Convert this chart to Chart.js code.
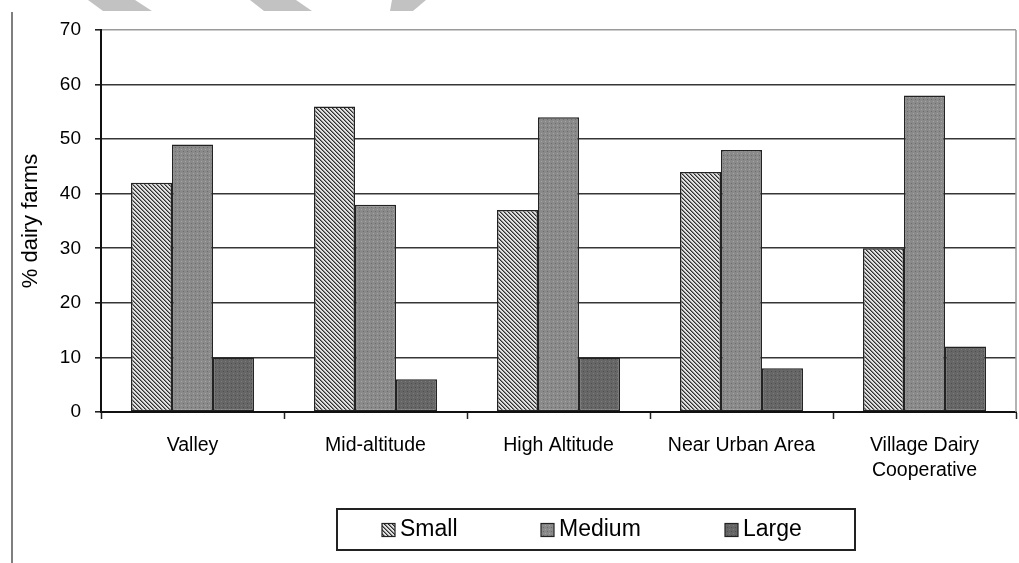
<!DOCTYPE html>
<html>
<head>
<meta charset="utf-8">
<script src="https://cdn.jsdelivr.net/npm/chart.js@4/dist/chart.umd.min.js"></script>
<style>
  html, body { margin: 0; padding: 0; background: #fff; }
  #wrap { width: 1019px; height: 563px; position: relative; }
</style>
</head>
<body>
<div id="wrap"><canvas id="c"></canvas></div>
<script>
// Farm size distribution by location (% of dairy farms)
const categories = ['Valley', 'Mid-altitude', 'High Altitude', 'Near Urban Area', ['Village Dairy', 'Cooperative']];
const seriesNames = ['Small', 'Medium', 'Large'];
const smallFarms  = [42, 56, 37, 44, 30];
const mediumFarms = [49, 38, 54, 48, 58];
const largeFarms  = [10, 6, 10, 8, 12];
const yTicks = [0, 10, 20, 30, 40, 50, 60, 70];

const FONT = "'Liberation Sans', Arial, sans-serif";

// Fill textures for the three series
function makePattern(size, draw) {
  const t = document.createElement('canvas');
  t.width = size; t.height = size;
  const g = t.getContext('2d');
  draw(g);
  return document.createElement('canvas').getContext('2d').createPattern(t, 'repeat');
}
const hatchSmall = makePattern(4, g => {
  g.fillStyle = '#e2e2e2'; g.fillRect(0, 0, 4, 4);
  for (let i = 0; i < 4; i++) {
    g.fillStyle = '#2e2e2e'; g.fillRect(i, i, 1, 1);
    g.fillStyle = '#858585'; g.fillRect((i + 1) % 4, i, 1, 1);
  }
});
const dotsMedium = makePattern(4, g => {
  g.fillStyle = '#8a8a8a'; g.fillRect(0, 0, 4, 4);
  g.fillStyle = '#a6a6a6'; g.fillRect(1, 1, 1, 1);
  g.fillStyle = '#6c6c6c'; g.fillRect(3, 3, 1, 1);
});
const dotsLarge = makePattern(4, g => {
  g.fillStyle = '#666666'; g.fillRect(0, 0, 4, 4);
  g.fillStyle = '#7c7c7c'; g.fillRect(1, 1, 1, 1);
  g.fillStyle = '#4f4f4f'; g.fillRect(3, 3, 1, 1);
});
const fills = [hatchSmall, dotsMedium, dotsLarge];

// Page decorations: grey marks at the top and the left margin rule
const pageDecor = {
  id: 'pageDecor',
  beforeDraw(chart) {
    const ctx = chart.ctx;
    ctx.save();
    ctx.fillStyle = '#c2c2c2';
    const shapes = [
      [[88, 0], [135, 0], [152, 11], [103, 11]],
      [[250, 0], [296, 0], [312, 11], [264, 11]],
      [[392, 0], [426, 0], [413, 11], [390, 11]]
    ];
    shapes.forEach(s => {
      ctx.beginPath();
      ctx.moveTo(s[0][0], s[0][1]);
      for (let i = 1; i < s.length; i++) ctx.lineTo(s[i][0], s[i][1]);
      ctx.closePath();
      ctx.fill();
    });
    ctx.strokeStyle = '#555';
    ctx.lineWidth = 1.5;
    ctx.beginPath();
    ctx.moveTo(12, 12);
    ctx.lineTo(12, 563);
    ctx.stroke();
    ctx.restore();
  },
  afterDatasetsDraw(chart) {
    // right edge of the plot frame
    const a = chart.chartArea, ctx = chart.ctx;
    ctx.save();
    ctx.strokeStyle = '#9a9a9a';
    ctx.lineWidth = 1.5;
    ctx.beginPath();
    ctx.moveTo(a.right, a.top);
    ctx.lineTo(a.right, a.bottom);
    ctx.stroke();
    ctx.restore();
  }
};

// Boxed legend under the axis
const boxedLegend = {
  id: 'boxedLegend',
  afterDraw(chart) {
    const ctx = chart.ctx;
    const box = { x: 337, y: 509, w: 518, h: 41 };
    ctx.save();
    ctx.fillStyle = '#fff';
    ctx.fillRect(box.x, box.y, box.w, box.h);
    ctx.strokeStyle = '#222';
    ctx.lineWidth = 2;
    ctx.strokeRect(box.x, box.y, box.w, box.h);
    const itemX = [382, 541, 725];
    const cy = box.y + box.h / 2;
    ctx.font = '23px ' + FONT;
    ctx.textBaseline = 'middle';
    ctx.textAlign = 'left';
    chart.data.datasets.forEach((ds, i) => {
      const sx = itemX[i];
      ctx.fillStyle = ds.backgroundColor;
      ctx.fillRect(sx, cy - 6, 13, 13);
      ctx.strokeStyle = '#222';
      ctx.lineWidth = 1.2;
      ctx.strokeRect(sx, cy - 6, 13, 13);
      ctx.fillStyle = '#000';
      ctx.fillText(ds.label, sx + 18, cy);
    });
    ctx.restore();
  }
};

const seriesValues = [smallFarms, mediumFarms, largeFarms];

new Chart(document.getElementById('c'), {
  type: 'bar',
  data: {
    labels: categories,
    datasets: seriesNames.map((name, i) => ({
      label: name,
      data: seriesValues[i],
      backgroundColor: fills[i],
      borderColor: '#222',
      borderWidth: 1.5,
      borderSkipped: false,
      categoryPercentage: 0.672,
      barPercentage: 1.0
    }))
  },
  options: {
    responsive: true,
    maintainAspectRatio: false,
    animation: false,
    layout: { padding: { left: 0, right: 3, top: 30, bottom: 61 } },
    plugins: {
      legend: { display: false },
      tooltip: { enabled: false }
    },
    scales: {
      x: {
        offset: true,
        grid: {
          display: true,
          offset: true,
          drawOnChartArea: false,
          drawTicks: true,
          tickLength: 7,
          tickColor: '#222',
          tickWidth: 1.5
        },
        border: { display: true, color: '#111', width: 2 },
        ticks: {
          color: '#000',
          padding: 14,
          font: { family: FONT, size: 19.5, lineHeight: 1.28 },
          maxRotation: 0,
          autoSkip: false
        },
        afterFit(s) { s.height = 90; }
      },
      y: {
        min: 0,
        max: 70,
        afterBuildTicks(s) { s.ticks = yTicks.map(v => ({ value: v })); },
        grid: {
          color: ctx => (ctx.tick && ctx.tick.value === 70 ? '#9a9a9a' : '#363636'),
          lineWidth: 1.6,
          drawTicks: true,
          tickLength: 6,
          tickColor: '#222'
        },
        border: { display: true, color: '#111', width: 2 },
        ticks: {
          color: '#000',
          padding: 14,
          font: { family: FONT, size: 19 }
        },
        title: {
          display: true,
          text: '% dairy farms',
          color: '#000',
          font: { family: FONT, size: 22 },
          padding: { top: 18, bottom: 0 }
        },
        afterFit(s) { s.width = 101; }
      }
    }
  },
  plugins: [pageDecor, boxedLegend]
});
</script>
</body>
</html>
